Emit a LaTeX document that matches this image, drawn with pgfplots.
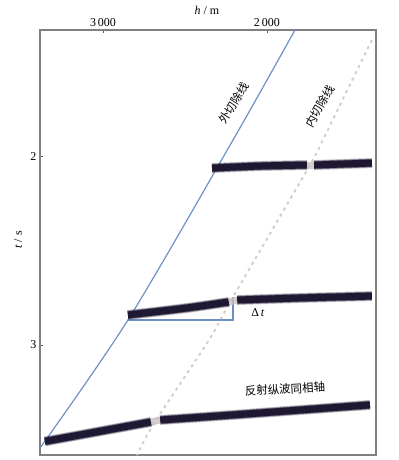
\documentclass[border=0pt]{standalone}
\usepackage{pgfplots}
\pgfplotsset{compat=1.18}
\usepackage{fontspec}
\setmainfont{Liberation Serif}
\newfontfamily\cjk{Noto Sans CJK SC}
\definecolor{cutblue}{RGB}{108,146,196}
\definecolor{evt}{RGB}{30,24,50}
\definecolor{innerc}{RGB}{216,204,200}
\definecolor{gapc}{RGB}{200,192,190}
\definecolor{boxc}{RGB}{128,128,128}
\newcommand{\evtline}[1]{%
  \addplot[evt, opacity=0.25, line width=10bp, smooth] coordinates {#1};
  \addplot[evt, opacity=0.5, line width=8.5bp, smooth] coordinates {#1};
  \addplot[evt, line width=7bp, smooth] coordinates {#1};}
\begin{document}
\begin{tikzpicture}
\begin{axis}[
  scale only axis, width=336bp, height=425bp,
  x dir=reverse, y dir=reverse,
  xmin=1335, xmax=3384, ymin=1.333, ymax=3.582,
  xtick={2000,3000}, xticklabels={2\,000,3\,000},
  xtick pos=upper, xticklabel pos=upper,
  ytick={2,3}, ytick pos=left,
  tick align=inside, major tick length=3bp,
  axis line style={draw=boxc, line width=1.3bp},
  tick style={draw=boxc!70!black, line width=0.8bp},
  ticklabel style={font=\fontsize{12}{14}\selectfont},
  /pgf/number format/assume math mode=true,
  xlabel={\textit{h} / m}, ylabel={\textit{t} / s},
  xlabel style={font=\fontsize{12}{14}\selectfont, at={(axis description cs:0.497,1.047)}, anchor=center},
  ylabel style={font=\fontsize{12}{14}\selectfont, at={(axis description cs:-0.0655,0.506)}, anchor=center},
  clip=true,
]
% outer cut line
\addplot[cutblue, line width=1.2bp, smooth] coordinates {(1829,1.333) (2207,1.915) (2848,2.868) (3384,3.545)};
% inner cut line
\addplot[innerc, line width=2bp, dash pattern=on 3bp off 4bp, smooth] coordinates {(1360,1.386) (1659,1.915) (1738,2.048) (2207,2.746) (2354,2.974) (2683,3.407) (2793,3.582)};
% Delta t bracket
\addplot[cutblue, line width=1.2bp] coordinates {(2848,2.868) (2207,2.868) (2207,2.746)};
% events
\evtline{(2335,2.0635) (2043,2.0529) (1756,2.0476)}
\evtline{(1713,2.0476) (1360,2.037)}
\evtline{(2848,2.841) (2488,2.804) (2232,2.772)}
\evtline{(2183,2.762) (1799,2.751) (1360,2.741)}
\evtline{(3354,3.510) (2707,3.407)}
\evtline{(2652,3.397) (2207,3.370) (1799,3.344) (1372,3.317)}
% crossing patches
\addplot[gapc, opacity=0.8, line width=7bp] coordinates {(1756,2.0476) (1713,2.0476)};
\addplot[gapc, opacity=0.8, line width=7bp] coordinates {(2232,2.772) (2183,2.762)};
\addplot[gapc, opacity=0.8, line width=7bp] coordinates {(2707,3.407) (2652,3.397)};
% labels
\node[rotate=58, font=\cjk\fontsize{11.5}{13}\selectfont] at (axis cs:2201,1.720) {外切除线};
\node[rotate=60, font=\cjk\fontsize{11.5}{13}\selectfont] at (axis cs:1677,1.735) {内切除线};
\node[rotate=3, font=\cjk\fontsize{11.5}{13}\selectfont] at (axis cs:1890,3.233) {反射纵波同相轴};
\node[font=\fontsize{12}{14}\selectfont] at (axis cs:2055,2.831) {Δ\,\textit{t}};
\end{axis}
\pgfresetboundingbox
\path ([xshift=-40bp,yshift=-5bp]current axis.south west) rectangle ([xshift=23bp,yshift=30bp]current axis.north east);
\end{tikzpicture}
\end{document}
